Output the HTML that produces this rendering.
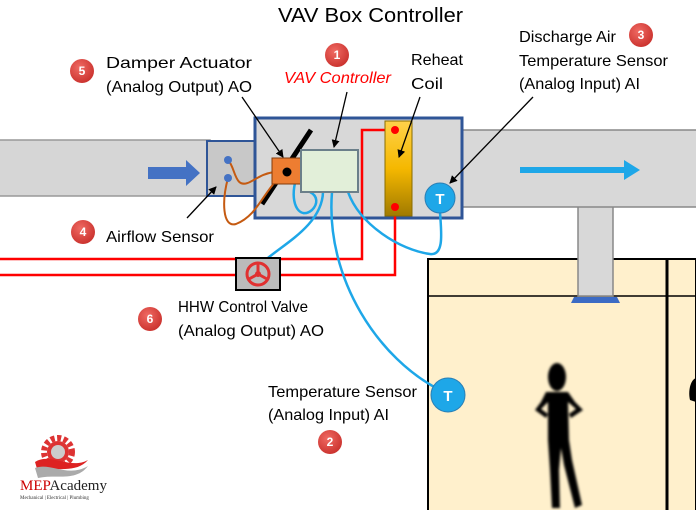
<!DOCTYPE html>
<html><head><meta charset="utf-8"><style>
html,body{margin:0;padding:0;background:#fff;}
svg{display:block;font-family:"Liberation Sans",sans-serif;}
</style></head><body>
<svg width="696" height="510" viewBox="0 0 696 510" xmlns="http://www.w3.org/2000/svg">
<defs>
<linearGradient id="coil" x1="0" y1="0" x2="0" y2="1"><stop offset="0" stop-color="#ffd24a"/><stop offset="0.5" stop-color="#f5b800"/><stop offset="1" stop-color="#a07a00"/></linearGradient>
<radialGradient id="badge" cx="0.4" cy="0.35" r="0.7"><stop offset="0" stop-color="#f06a63"/><stop offset="1" stop-color="#c9302c"/></radialGradient>
<filter id="blur"><feGaussianBlur stdDeviation="1.2"/></filter>
<marker id="ah" markerWidth="8" markerHeight="8" refX="7" refY="4" orient="auto" markerUnits="userSpaceOnUse"><path d="M0,0 L8,4 L0,8 Z" fill="#000"/></marker>
</defs>
<rect x="428" y="259" width="268" height="260" fill="#fff0cc" stroke="#000" stroke-width="2"/>
<line x1="428" y1="296" x2="696" y2="296" stroke="#000" stroke-width="1.5"/>
<line x1="667" y1="259" x2="667" y2="510" stroke="#000" stroke-width="3"/>
<rect x="578" y="205" width="35" height="91" fill="#d8d8d8" stroke="#888" stroke-width="1.5"/>
<path d="M571 303 L574 297 L617 297 L620 303 Z" fill="#3c6bc4"/>
<rect x="-2" y="140" width="212" height="56" fill="#d6d6d6" stroke="#999" stroke-width="1.5"/>
<rect x="460" y="130" width="240" height="77" fill="#d8d8d8" stroke="#888" stroke-width="1.5"/>
<rect x="207" y="141" width="49" height="55" fill="#c8c8c8" stroke="#2f5597" stroke-width="2"/>
<rect x="255" y="118" width="207" height="100" fill="#d8d8d8" stroke="#2f5597" stroke-width="3"/>
<path d="M148 167 L186 167 L186 160 L200 173 L186 186 L186 179 L148 179 Z" fill="#4472c4"/>
<path d="M520 167 L624 167 L624 160 L640 170 L624 180 L624 173 L520 173 Z" fill="#1ea7e8"/>
<polyline points="0,259 362,259 362,130 395,130" fill="none" stroke="#f00" stroke-width="2.5"/>
<polyline points="0,275 395,275 395,207" fill="none" stroke="#f00" stroke-width="2.5"/>
<rect x="385" y="121" width="27" height="95" fill="url(#coil)" stroke="#8a6d00" stroke-width="1"/>
<circle cx="395" cy="130" r="4" fill="#f00"/>
<circle cx="395" cy="207" r="4" fill="#f00"/>
<line x1="262" y1="204" x2="311" y2="130" stroke="#000" stroke-width="5"/>
<path d="M228 160 C236 168 234 190 250 182 C258 178 262 174 274 172" fill="none" stroke="#c55a11" stroke-width="2"/>
<path d="M228 178 C222 200 222 228 236 224 C256 216 262 196 276 181" fill="none" stroke="#c55a11" stroke-width="2"/>
<circle cx="228" cy="160" r="4" fill="#4472c4"/>
<circle cx="228" cy="178" r="4" fill="#4472c4"/>
<path d="M295 183 C290 205 300 220 312 210 C318 204 318 196 310 192" fill="none" stroke="#1ea7e8" stroke-width="2.5"/>
<path d="M323 192 C322 230 270 250 258 268" fill="none" stroke="#1ea7e8" stroke-width="2.5"/>
<path d="M332 192 C325 280 380 360 440 390" fill="none" stroke="#1ea7e8" stroke-width="2.5"/>
<path d="M348 192 C360 225 400 250 430 254 C445 256 441 230 440 212" fill="none" stroke="#1ea7e8" stroke-width="2.5"/>
<rect x="272" y="158" width="30" height="26" fill="#ed7d31" stroke="#843c0c" stroke-width="1"/>
<circle cx="287" cy="172" r="4.5" fill="#000"/>
<rect x="301" y="150" width="57" height="42" fill="#e2efd9" stroke="#6b7f8a" stroke-width="2"/>
<rect x="236" y="258" width="44" height="32" fill="#bbb" stroke="#000" stroke-width="2"/>
<circle cx="258" cy="274" r="11" fill="none" stroke="#e03030" stroke-width="3"/>
<path d="M258 274 L258 264 M258 274 L249 279 M258 274 L267 279" stroke="#e03030" stroke-width="3"/>
<circle cx="258" cy="274" r="3" fill="#e03030"/>
<circle cx="440" cy="198" r="15" fill="#1ea7e8" stroke="#2a7fb5" stroke-width="1"/>
<text x="440" y="204" text-anchor="middle" font-size="15" font-weight="bold" fill="#fff">T</text>
<circle cx="448" cy="395" r="17" fill="#1ea7e8" stroke="#2a7fb5" stroke-width="1"/>
<text x="448" y="401" text-anchor="middle" font-size="15" font-weight="bold" fill="#fff">T</text>
<g filter="url(#blur)" fill="#000">
<ellipse cx="557" cy="377" rx="9" ry="14"/>
<path d="M546 392 L568 392 L575 402 L583 410 L571 418 L569 414 L576 409 L568 402 L569 440 L572 460 L582 505 L575 508 L564 465 L561 448 L559 470 L560 508 L552 508 L550 470 L548 440 L548 402 L541 409 L548 414 L546 418 L535 410 L541 402 Z"/>
</g>
<path d="M696 378 C690 380 688 392 690 400 L696 402 Z" fill="#000"/>
<line x1="242" y1="97" x2="283" y2="157" stroke="#000" stroke-width="1.3" marker-end="url(#ah)"/>
<line x1="347" y1="92" x2="334" y2="147" stroke="#000" stroke-width="1.3" marker-end="url(#ah)"/>
<line x1="420" y1="97" x2="399" y2="157" stroke="#000" stroke-width="1.3" marker-end="url(#ah)"/>
<line x1="533" y1="97" x2="450" y2="183" stroke="#000" stroke-width="1.3" marker-end="url(#ah)"/>
<line x1="187" y1="218" x2="216" y2="187" stroke="#000" stroke-width="1.3" marker-end="url(#ah)"/>
<g font-size="12" font-weight="bold" fill="#fff" text-anchor="middle">
<circle cx="82" cy="71" r="12" fill="url(#badge)"/><text x="82" y="75">5</text>
<circle cx="337" cy="55" r="12" fill="url(#badge)"/><text x="337" y="59">1</text>
<circle cx="641" cy="35" r="12" fill="url(#badge)"/><text x="641" y="39">3</text>
<circle cx="83" cy="232" r="12" fill="url(#badge)"/><text x="83" y="236">4</text>
<circle cx="150" cy="319" r="12" fill="url(#badge)"/><text x="150" y="323">6</text>
<circle cx="330" cy="442" r="12" fill="url(#badge)"/><text x="330" y="446">2</text>
</g>
<g font-size="16" fill="#000">
<text x="278" y="22" font-size="20" textLength="185" lengthAdjust="spacingAndGlyphs">VAV Box Controller</text>
<text x="106" y="68" textLength="146" lengthAdjust="spacingAndGlyphs">Damper Actuator</text>
<text x="106" y="92" textLength="146" lengthAdjust="spacingAndGlyphs">(Analog Output) AO</text>
<text x="284" y="83" fill="#f00" font-style="italic" textLength="107" lengthAdjust="spacingAndGlyphs">VAV Controller</text>
<text x="411" y="65" textLength="52" lengthAdjust="spacingAndGlyphs">Reheat</text>
<text x="411" y="89" textLength="32" lengthAdjust="spacingAndGlyphs">Coil</text>
<text x="519" y="42" textLength="97" lengthAdjust="spacingAndGlyphs">Discharge Air</text>
<text x="519" y="66" textLength="149" lengthAdjust="spacingAndGlyphs">Temperature Sensor</text>
<text x="519" y="89" textLength="121" lengthAdjust="spacingAndGlyphs">(Analog Input) AI</text>
<text x="106" y="242" textLength="108" lengthAdjust="spacingAndGlyphs">Airflow Sensor</text>
<text x="178" y="312" textLength="130" lengthAdjust="spacingAndGlyphs">HHW Control Valve</text>
<text x="178" y="336" textLength="146" lengthAdjust="spacingAndGlyphs">(Analog Output) AO</text>
<text x="268" y="397" textLength="149" lengthAdjust="spacingAndGlyphs">Temperature Sensor</text>
<text x="268" y="420" textLength="121" lengthAdjust="spacingAndGlyphs">(Analog Input) AI</text>
</g>
<g>
<circle cx="58" cy="452" r="14" fill="none" stroke="#d33" stroke-width="6" stroke-dasharray="4 2.5"/>
<circle cx="58" cy="452" r="11" fill="#d33"/>
<circle cx="58" cy="452" r="7" fill="#ccc"/>
<path d="M35 462 C50 452 70 470 88 460 C76 474 56 466 38 472 Z" fill="#d22"/>
<path d="M35 468 C50 462 68 478 88 466 C76 482 56 474 38 478 Z" fill="#aaa"/>
<text x="20" y="490" font-family="Liberation Serif,serif" font-size="15" fill="#c00">MEP<tspan fill="#222">Academy</tspan></text>
<text x="20" y="499" font-family="Liberation Serif,serif" font-size="5" fill="#333">Mechanical | Electrical | Plumbing</text>
</g>
</svg>
</body></html>
